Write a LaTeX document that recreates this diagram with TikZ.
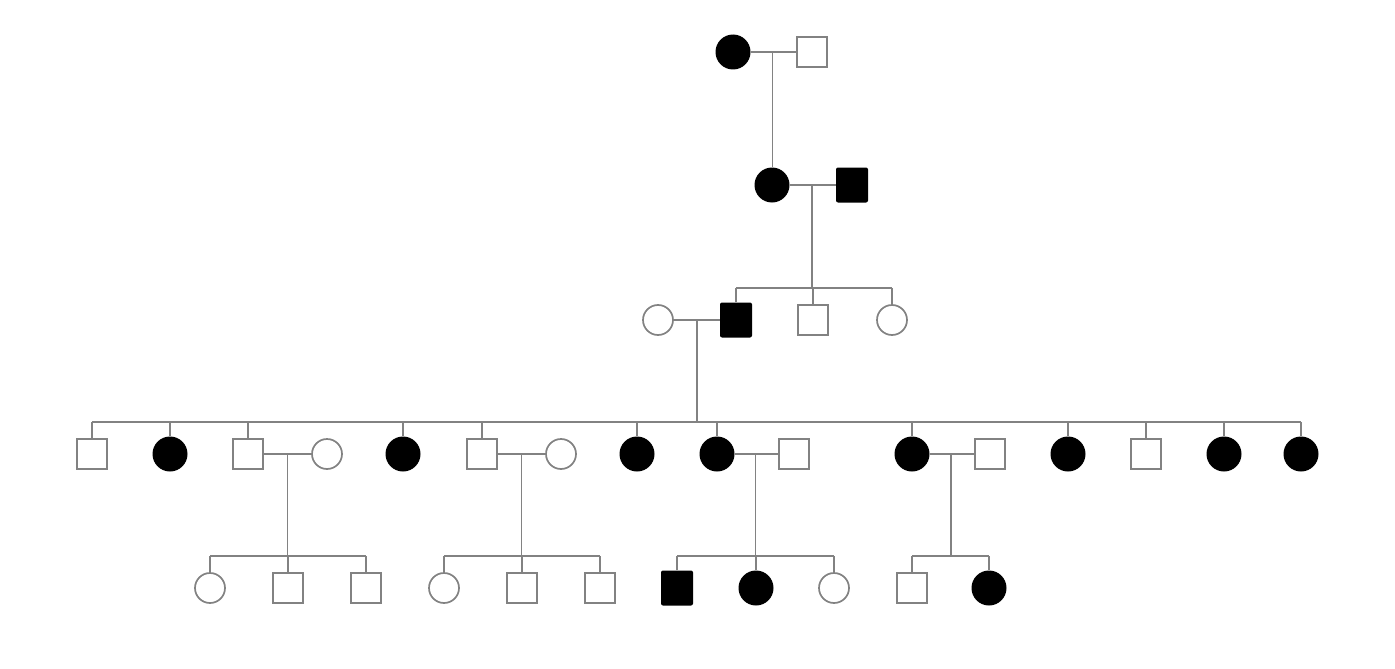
\documentclass[tikz,border=0pt]{standalone}
\usetikzlibrary{calc}
\definecolor{linegray}{RGB}{130,130,130}
\begin{document}
\begin{tikzpicture}[x=1pt,y=-1pt,
  lin/.style={draw=linegray, line width=1.7pt},
  male/.style={rectangle, draw=linegray, fill=white, line width=1.7pt, minimum size=29.5pt, inner sep=0pt},
  female/.style={circle, draw=linegray, fill=white, line width=1.7pt, minimum size=30pt, inner sep=0pt},
  amale/.style={rectangle, rounded corners=2pt, fill=black, minimum width=32pt, minimum height=35pt, inner sep=0pt},
  afemale/.style={circle, fill=black, minimum size=35pt, inner sep=0pt}]
\path[use as bounding box, fill=white] (0,0) rectangle (1395,669);
% generation 1
\node[afemale] (a1) at (733,52) {};
\node[male] (a2) at (812,52) {};
% generation 2
\node[afemale] (b1) at (772,185) {};
\node[amale] (b2) at (852,185) {};
% generation 3
\node[female] (c0) at (658,320) {};
\node[amale] (c1) at (736,320) {};
\node[male] (c2) at (813,320) {};
\node[female] (c3) at (892,320) {};
% generation 4
\node[male] (d1) at (92,454) {};
\node[afemale] (d2) at (170,454) {};
\node[male] (d3) at (248,454) {};
\node[female] (d3w) at (327,454) {};
\node[afemale] (d4) at (403,454) {};
\node[male] (d5) at (482,454) {};
\node[female] (d5w) at (561,454) {};
\node[afemale] (d6) at (637,454) {};
\node[afemale] (d7) at (717,454) {};
\node[male] (d7h) at (794,454) {};
\node[afemale] (d8) at (912,454) {};
\node[male] (d8h) at (990,454) {};
\node[afemale] (d9) at (1068,454) {};
\node[male] (d10) at (1146,454) {};
\node[afemale] (d11) at (1224,454) {};
\node[afemale] (d12) at (1301,454) {};
% generation 5
\node[female] (e1) at (210,588) {};
\node[male] (e2) at (288,588) {};
\node[male] (e3) at (366,588) {};
\node[female] (e4) at (444,588) {};
\node[male] (e5) at (522,588) {};
\node[male] (e6) at (600,588) {};
\node[amale] (e7) at (677,588) {};
\node[afemale] (e8) at (756,588) {};
\node[female] (e9) at (834,588) {};
\node[male] (e10) at (912,588) {};
\node[afemale] (e11) at (989,588) {};
% sibship levels
\coordinate (s3) at (0,288);
\coordinate (s4) at (0,422);
\coordinate (s5) at (0,556);
% couples and descent
\coordinate (m1) at ($(a1)!0.5!(a2)$);
\draw[lin] (a1.east) -- (a2.west);
\draw[lin] (m1) -- (m1 |- b1.north);
\coordinate (m2) at ($(b1)!0.5!(b2)$);
\draw[lin] (b1.east) -- (b2.west);
\draw[lin] (m2) -- (m2 |- s3);
\draw[lin] (c1.north |- s3) -- (c3.north |- s3);
\foreach \n in {c1,c2,c3} \draw[lin] (\n.north) -- (\n.north |- s3);
\coordinate (m3) at ($(c0)!0.5!(c1)$);
\draw[lin] (c0.east) -- (c1.west);
\draw[lin] (m3) -- (m3 |- s4);
\draw[lin] (d1.north |- s4) -- (d12.north |- s4);
\foreach \n in {d1,d2,d3,d4,d5,d6,d7,d8,d9,d10,d11,d12} \draw[lin] (\n.north) -- (\n.north |- s4);
% gen 4 couples
\coordinate (m4) at ($(d3)!0.5!(d3w)$);
\draw[lin] (d3.east) -- (d3w.west);
\draw[lin] (m4) -- (m4 |- s5);
\draw[lin] (e1.north |- s5) -- (e3.north |- s5);
\foreach \n in {e1,e2,e3} \draw[lin] (\n.north) -- (\n.north |- s5);
\coordinate (m5) at ($(d5)!0.5!(d5w)$);
\draw[lin] (d5.east) -- (d5w.west);
\draw[lin] (m5) -- (m5 |- s5);
\draw[lin] (e4.north |- s5) -- (e6.north |- s5);
\foreach \n in {e4,e5,e6} \draw[lin] (\n.north) -- (\n.north |- s5);
\coordinate (m6) at ($(d7)!0.5!(d7h)$);
\draw[lin] (d7.east) -- (d7h.west);
\draw[lin] (m6) -- (m6 |- s5);
\draw[lin] (e7.north |- s5) -- (e9.north |- s5);
\foreach \n in {e7,e8,e9} \draw[lin] (\n.north) -- (\n.north |- s5);
\coordinate (m7) at ($(d8)!0.5!(d8h)$);
\draw[lin] (d8.east) -- (d8h.west);
\draw[lin] (m7) -- (m7 |- s5);
\draw[lin] (e10.north |- s5) -- (e11.north |- s5);
\foreach \n in {e10,e11} \draw[lin] (\n.north) -- (\n.north |- s5);
\end{tikzpicture}
\end{document}
